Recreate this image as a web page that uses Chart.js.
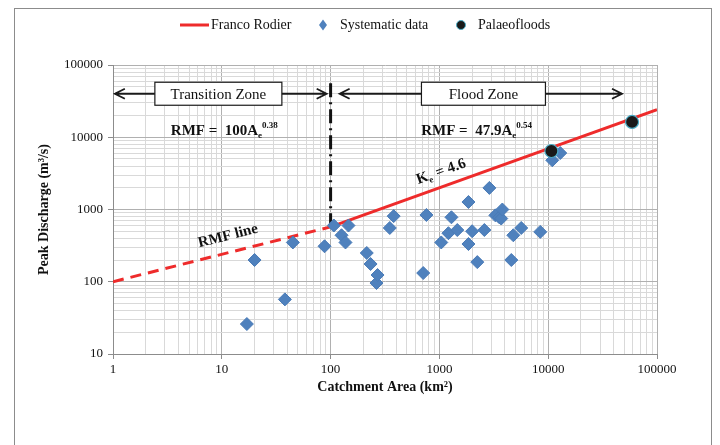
<!DOCTYPE html>
<html>
<head>
<meta charset="utf-8">
<script src="https://cdn.jsdelivr.net/npm/chart.js@4.4.1/dist/chart.umd.min.js"></script>
<style>
  html, body { margin: 0; padding: 0; background: #fff; }
  #wrap { width: 720px; height: 445px; }
</style>
</head>
<body>
<div id="wrap"><canvas id="chart"></canvas></div>
<script>
// catchment area (km2) / peak discharge (m3/s)
const systematicArea = [17, 20, 38, 45, 88, 107, 126, 137, 146, 215, 233, 264, 270, 350, 380, 710, 760,
  1040, 1210, 1290, 1460, 1850, 1850, 2000, 2230, 2590, 2880, 3270, 3550, 3700, 3790, 4580, 4780, 5650, 8450,
  10900, 12900];
const systematicPeak = [26, 200, 57, 350, 310, 600, 440, 350, 600, 250, 176, 96, 124, 555, 810, 132, 840,
  350, 470, 780, 520, 1270, 333, 500, 187, 520, 1990, 830, 780, 750, 1000, 200, 440, 555, 490,
  4800, 6050];
const palaeoArea = [10700, 59000];
const palaeoPeak = [6450, 16300];
// RMF envelope: transition zone (dashed) and flood zone (solid)
const rmfTransitionArea = [1, 100];
const rmfTransitionPeak = [100, 575];
const rmfFloodArea = [100, 100000];
const rmfFloodPeak = [575, 24000];
// zone boundary
const boundaryArea = [100, 100];
const boundaryPeak = [56000, 520];

const xTickLabels = [1, 10, 100, 1000, 10000, 100000];
const yTickLabels = [10, 100, 1000, 10000, 100000];

const toXY = (xs, ys) => xs.map((x, i) => ({ x: x, y: ys[i] }));

const serif = "'Liberation Serif', 'Times New Roman', serif";
const red = "#ee2b2b";
const blue = "#4f81bd";

function logTicks(majors) {
  const out = [];
  for (let i = 0; i < majors.length; i++) {
    out.push({ value: majors[i], major: true });
    if (i < majors.length - 1) {
      for (let k = 2; k <= 9; k++) out.push({ value: majors[i] * k, major: false });
    }
  }
  return out;
}

const zones = [
  { from: 1.04, to: 92, label: "Transition Zone", center: 9.3, boxW: 127 },
  { from: 121, to: 47700, label: "Flood Zone", center: 2540, boxW: 124 }
];

const annotations = {
  id: "annotations",
  beforeDraw(chart) {
    const c = chart.ctx;
    c.save();
    c.fillStyle = "#fff";
    c.fillRect(0, 0, chart.width, chart.height);
    c.strokeStyle = "#8c8c8c";
    c.lineWidth = 1;
    c.strokeRect(14.5, 8.5, 697, 460);
    c.restore();
  },
  afterDatasetsDraw(chart) {
    const c = chart.ctx;
    const xs = chart.scales.x, ys = chart.scales.y;
    c.save();

    // zone arrows with labelled boxes
    const ay = ys.getPixelForValue(40000);
    zones.forEach(z => {
      const x1 = xs.getPixelForValue(z.from), x2 = xs.getPixelForValue(z.to);
      c.strokeStyle = "#1a1a1a";
      c.lineWidth = 1.8;
      c.beginPath();
      c.moveTo(x1, ay); c.lineTo(x2, ay);
      c.moveTo(x1 + 10, ay - 5); c.lineTo(x1, ay); c.lineTo(x1 + 10, ay + 5);
      c.moveTo(x2 - 10, ay - 5); c.lineTo(x2, ay); c.lineTo(x2 - 10, ay + 5);
      c.stroke();
      const cx = xs.getPixelForValue(z.center);
      c.fillStyle = "#fff";
      c.fillRect(cx - z.boxW / 2, ay - 11.5, z.boxW, 23);
      c.lineWidth = 1.2;
      c.strokeRect(cx - z.boxW / 2, ay - 11.5, z.boxW, 23);
      c.fillStyle = "#111";
      c.font = "15px " + serif;
      c.textAlign = "center";
      c.textBaseline = "middle";
      c.fillText(z.label, cx, ay + 1);
    });

    // RMF equations
    function equation(x, y, coef, exp) {
      c.textAlign = "left";
      c.textBaseline = "alphabetic";
      c.fillStyle = "#111";
      c.font = "bold 15px " + serif;
      const main = "RMF =  " + coef + "A";
      c.fillText(main, x, y);
      let w = c.measureText(main).width;
      c.font = "bold 9px " + serif;
      c.fillText("e", x + w, y + 3);
      c.fillText(exp, x + w + 4, y - 7);
    }
    equation(xs.getPixelForValue(3.4), ys.getPixelForValue(10700), "100", "0.38");
    equation(xs.getPixelForValue(680), ys.getPixelForValue(10700), "47.9", "0.54");

    // rotated labels along the envelope
    c.save();
    c.translate(xs.getPixelForValue(640), ys.getPixelForValue(2250));
    c.rotate(-19.7 * Math.PI / 180);
    c.font = "bold 15px " + serif;
    c.fillStyle = "#111";
    c.textAlign = "left";
    c.fillText("K", 0, 0);
    let kw = c.measureText("K").width;
    c.font = "bold 9px " + serif;
    c.fillText("e", kw, 3);
    c.font = "bold 15px " + serif;
    c.fillText(" = 4.6", kw + 5, 0);
    c.restore();

    c.save();
    c.translate(xs.getPixelForValue(6.2), ys.getPixelForValue(300));
    c.rotate(-14 * Math.PI / 180);
    c.font = "bold 15px " + serif;
    c.fillStyle = "#111";
    c.textAlign = "left";
    c.fillText("RMF line", 0, 0);
    c.restore();

    c.restore();
  },
  afterDraw(chart) {
    // legend
    const c = chart.ctx;
    const y = 25;
    c.save();
    c.font = "14px " + serif;
    c.fillStyle = "#111";
    c.textBaseline = "middle";
    c.textAlign = "left";
    c.strokeStyle = red;
    c.lineWidth = 3;
    c.beginPath(); c.moveTo(180, y); c.lineTo(209, y); c.stroke();
    c.fillText("Franco Rodier", 211, y);
    c.fillStyle = blue;
    c.beginPath();
    c.moveTo(323, y - 5.5); c.lineTo(327, y); c.lineTo(323, y + 5.5); c.lineTo(319, y); c.closePath();
    c.fill();
    c.fillStyle = "#111";
    c.fillText("Systematic data", 340, y);
    c.beginPath(); c.arc(461, y, 4.5, 0, Math.PI * 2);
    c.fillStyle = "#1a1a1a"; c.fill();
    c.strokeStyle = "#4bacc6"; c.lineWidth = 1; c.stroke();
    c.fillStyle = "#111";
    c.fillText("Palaeofloods", 478, y);
    c.restore();
  }
};

const gridColor = ctx => (ctx.tick && ctx.tick.major ? "#b0b0b0" : "#d9d9d9");
const tickColor = ctx => (ctx.tick && ctx.tick.major ? "#8c8c8c" : "rgba(0,0,0,0)");

new Chart(document.getElementById("chart"), {
  type: "scatter",
  data: {
    datasets: [
      {
        label: "Palaeofloods",
        data: toXY(palaeoArea, palaeoPeak),
        pointStyle: "circle",
        pointRadius: 6.5,
        backgroundColor: "#1a1a1a",
        borderColor: "#4bacc6",
        borderWidth: 1.2,
        order: 0
      },
      {
        label: "Systematic data",
        data: toXY(systematicArea, systematicPeak),
        pointStyle: "rectRot",
        pointRadius: 6.5,
        backgroundColor: blue,
        borderColor: "#4a7bb7",
        borderWidth: 1,
        order: 1
      },
      {
        label: "Franco Rodier",
        type: "line",
        data: toXY(rmfFloodArea, rmfFloodPeak),
        borderColor: red,
        borderWidth: 3,
        pointRadius: 0,
        fill: false,
        order: 2
      },
      {
        label: "RMF line",
        type: "line",
        data: toXY(rmfTransitionArea, rmfTransitionPeak),
        borderColor: red,
        borderWidth: 3,
        borderDash: [11, 7],
        pointRadius: 0,
        fill: false,
        order: 3
      },
      {
        label: "Zone boundary",
        type: "line",
        data: toXY(boundaryArea, boundaryPeak),
        borderColor: "#111",
        borderWidth: 3,
        borderDash: [14, 5, 2, 5],
        pointRadius: 0,
        fill: false,
        order: 4
      }
    ]
  },
  options: {
    responsive: true,
    maintainAspectRatio: false,
    animation: false,
    layout: { padding: { left: 14, right: 63, top: 65, bottom: 46 } },
    plugins: {
      legend: { display: false },
      tooltip: { enabled: false }
    },
    scales: {
      x: {
        type: "logarithmic",
        min: 1,
        max: 100000,
        afterFit: scale => { scale.height = 45; },
        afterBuildTicks: scale => { scale.ticks = logTicks(xTickLabels); },
        ticks: {
          autoSkip: false,
          maxRotation: 0,
          padding: 3,
          color: "#111",
          font: { family: serif, size: 13 },
          callback: (v, i, ticks) => (ticks[i].major ? String(v) : "")
        },
        grid: { color: gridColor, tickColor: tickColor, tickLength: 5, lineWidth: 1 },
        border: { color: "#8c8c8c", width: 1 },
        title: {
          display: true,
          text: "Catchment Area (km²)",
          color: "#111",
          font: { family: serif, size: 14, weight: "bold" },
          padding: { top: 0, bottom: 3 }
        }
      },
      y: {
        type: "logarithmic",
        min: 10,
        max: 100000,
        afterFit: scale => { scale.width = 99; },
        afterBuildTicks: scale => { scale.ticks = logTicks(yTickLabels); },
        ticks: {
          autoSkip: false,
          padding: 5,
          color: "#111",
          font: { family: serif, size: 13 },
          callback: (v, i, ticks) => (ticks[i].major ? String(v) : "")
        },
        grid: { color: gridColor, tickColor: tickColor, tickLength: 5, lineWidth: 1 },
        border: { color: "#8c8c8c", width: 1 },
        title: {
          display: true,
          text: "Peak Discharge (m³/s)",
          color: "#111",
          font: { family: serif, size: 14, weight: "bold" },
          padding: { top: 22, bottom: 0 }
        }
      }
    }
  },
  plugins: [annotations]
});
</script>
</body>
</html>
